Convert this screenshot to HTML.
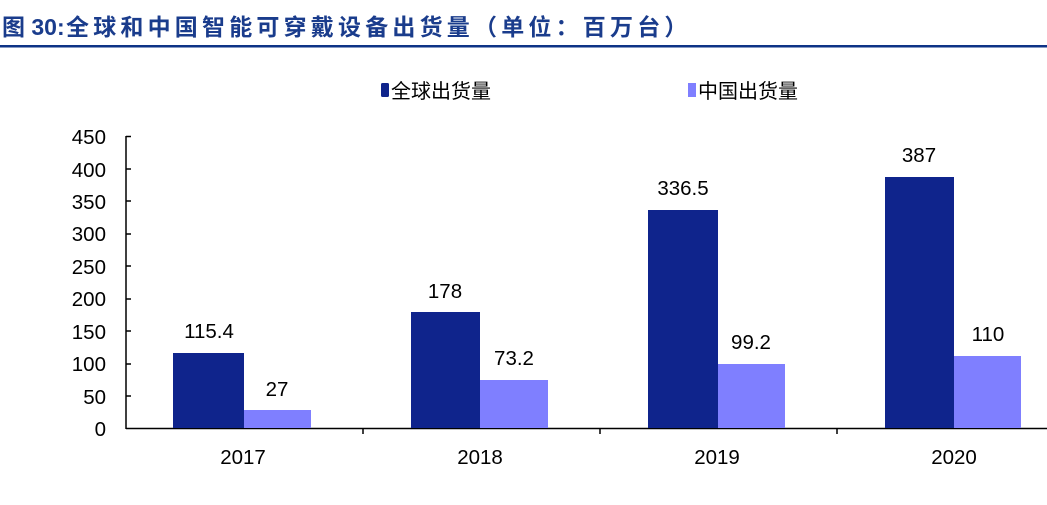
<!DOCTYPE html>
<html><head><meta charset="utf-8"><style>
body{margin:0;background:#fff;width:1047px;height:500px;overflow:hidden}
svg text{font-family:"Liberation Sans","Noto Sans CJK SC",sans-serif}
</style></head><body>
<svg width="1047" height="500" xmlns="http://www.w3.org/2000/svg">
<text x="2" y="35" font-size="23" font-weight="bold" fill="#1a3c8c">图 30:</text>
<text x="66" y="35" font-size="23" font-weight="bold" fill="#1a3c8c" letter-spacing="4.2">全球和中国智能可穿戴设备出货量（单位：百万台）</text>
<rect x="0" y="45" width="1047" height="2.5" fill="#0e3386"/>
<rect x="381" y="83" width="8" height="14" rx="1.5" fill="#0f248c"/>
<text x="391" y="98" font-size="20" fill="#000">全球出货量</text>
<rect x="688" y="83" width="8" height="14" fill="#7f7fff"/>
<text x="698" y="98" font-size="20" fill="#000">中国出货量</text>
<g font-size="20.5" fill="#000" text-anchor="end">
<text x="106" y="436">0</text><text x="106" y="404">50</text><text x="106" y="371">100</text><text x="106" y="339">150</text><text x="106" y="306">200</text><text x="106" y="274">250</text><text x="106" y="241">300</text><text x="106" y="209">350</text><text x="106" y="177">400</text><text x="106" y="144">450</text>
</g>
<g stroke="#000" stroke-width="1.5">
<line x1="126" y1="136" x2="126" y2="429"/>
<line x1="126" y1="428.5" x2="1047" y2="428.5"/>
<line x1="126" y1="136.5" x2="131" y2="136.5"/><line x1="126" y1="169" x2="131" y2="169"/><line x1="126" y1="201" x2="131" y2="201"/><line x1="126" y1="234" x2="131" y2="234"/><line x1="126" y1="266" x2="131" y2="266"/><line x1="126" y1="299" x2="131" y2="299"/><line x1="126" y1="331" x2="131" y2="331"/><line x1="126" y1="364" x2="131" y2="364"/><line x1="126" y1="396" x2="131" y2="396"/>
<line x1="363" y1="428" x2="363" y2="434"/><line x1="600" y1="428" x2="600" y2="434"/><line x1="837" y1="428" x2="837" y2="434"/>
</g>
<g fill="#0f248c">
<rect x="173" y="353" width="71" height="75"/>
<rect x="411" y="312" width="69" height="116"/>
<rect x="648" y="210" width="70" height="218"/>
<rect x="885" y="177" width="69" height="251"/>
</g>
<g fill="#7f7fff">
<rect x="244" y="410" width="67" height="18"/>
<rect x="480" y="380" width="68" height="48"/>
<rect x="718" y="364" width="67" height="64"/>
<rect x="954" y="356" width="67" height="72"/>
</g>
<g font-size="20.5" fill="#000" text-anchor="middle">
<text x="209" y="338">115.4</text><text x="277" y="396">27</text>
<text x="445" y="298">178</text><text x="514" y="365">73.2</text>
<text x="683" y="195">336.5</text><text x="751" y="349">99.2</text>
<text x="919" y="162">387</text><text x="988" y="341">110</text>
<text x="243" y="464">2017</text><text x="480" y="464">2018</text><text x="717" y="464">2019</text><text x="954" y="464">2020</text>
</g>
</svg>
</body></html>
